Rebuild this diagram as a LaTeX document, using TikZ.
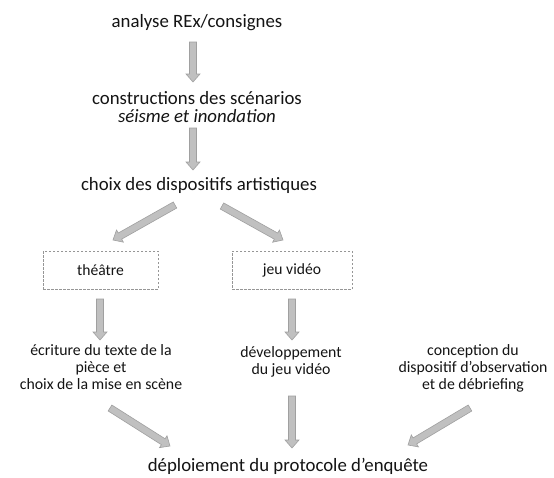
\documentclass[tikz,border=0pt]{standalone}
\usepackage{fontspec}
\setmainfont{Carlito}
\usetikzlibrary{calc}
\definecolor{arrowfill}{RGB}{192,192,192}
\definecolor{arrowline}{RGB}{160,160,160}
\definecolor{boxline}{RGB}{150,150,150}
\definecolor{txt}{RGB}{20,20,20}
\tikzset{
  barrow/.style={fill=arrowfill, draw=arrowline, line width=0.6pt, line join=miter},
  bigtext/.style={text=txt, font=\fontsize{18.8}{18.5}\selectfont, inner sep=0pt, align=center},
  smalltext/.style={text=txt, font=\fontsize{15.8}{17}\selectfont, inner sep=0pt, align=center},
  dashbox/.style={draw=boxline, dashed, dash pattern=on 2.5pt off 1.5pt, line width=0.6pt,
    minimum height=38pt, text=txt, font=\fontsize{15.6}{17}\selectfont}
}
\newcommand\blockarrow[2]{%
  \coordinate (#1-h) at ($(#2)!8pt!(#1)$);
  \filldraw[barrow] ($(#1)!3.5pt!90:(#2)$) -- ($(#1-h)!3.5pt!90:(#2)$)
    -- ($(#1-h)!7pt!90:(#2)$) -- (#2) -- ($(#1-h)!7pt!-90:(#2)$)
    -- ($(#1-h)!3.5pt!-90:(#2)$) -- ($(#1)!3.5pt!-90:(#2)$) -- cycle;}
\begin{document}
\begin{tikzpicture}[x=1pt,y=-1pt]
\useasboundingbox[fill=white] (0,0) rectangle (554,477);
% text nodes
\node[bigtext] (n1) at (197,23) {analyse REx/consignes};
\node[bigtext] (n2) at (197,107) {constructions des scénarios\\\textit{séisme et inondation}};
\node[bigtext] (n3) at (199,185) {choix des dispositifs artistiques};
\node[dashbox, minimum width=115pt] (b1) at (100.5,270) {théâtre};
\node[dashbox, minimum width=120pt] (b2) at (292,270) {jeu vidéo};
\node[smalltext] (t1) at (101,367) {écriture du texte de la\\pièce et\\choix de la mise en scène};
\node[smalltext] (t2) at (291,362) {développement\\du jeu vidéo};
\node[smalltext] (t3) at (473,368) {conception du\\dispositif d’observation\\et de débriefing};
\node[bigtext] (n9) at (288,466) {déploiement du protocole d’enquête};
% arrow end points
\coordinate (a1s) at (193,42);  \coordinate (a1e) at (193,82);
\coordinate (a2s) at (193,128); \coordinate (a2e) at (193,170);
\coordinate (a3s) at (175,205); \coordinate (a3e) at (113,240);
\coordinate (a4s) at (222,206); \coordinate (a4e) at (283,240);
\coordinate (a5s) at (100,299); \coordinate (a5e) at (100,340);
\coordinate (a6s) at (292,299); \coordinate (a6e) at (292,340);
\coordinate (a7s) at (110,408); \coordinate (a7e) at (170,446);
\coordinate (a8s) at (292,396); \coordinate (a8e) at (292,448);
\coordinate (a9s) at (470,408); \coordinate (a9e) at (408,445);
\blockarrow{a1s}{a1e}
\blockarrow{a2s}{a2e}
\blockarrow{a3s}{a3e}
\blockarrow{a4s}{a4e}
\blockarrow{a5s}{a5e}
\blockarrow{a6s}{a6e}
\blockarrow{a7s}{a7e}
\blockarrow{a8s}{a8e}
\blockarrow{a9s}{a9e}
\end{tikzpicture}
\end{document}
